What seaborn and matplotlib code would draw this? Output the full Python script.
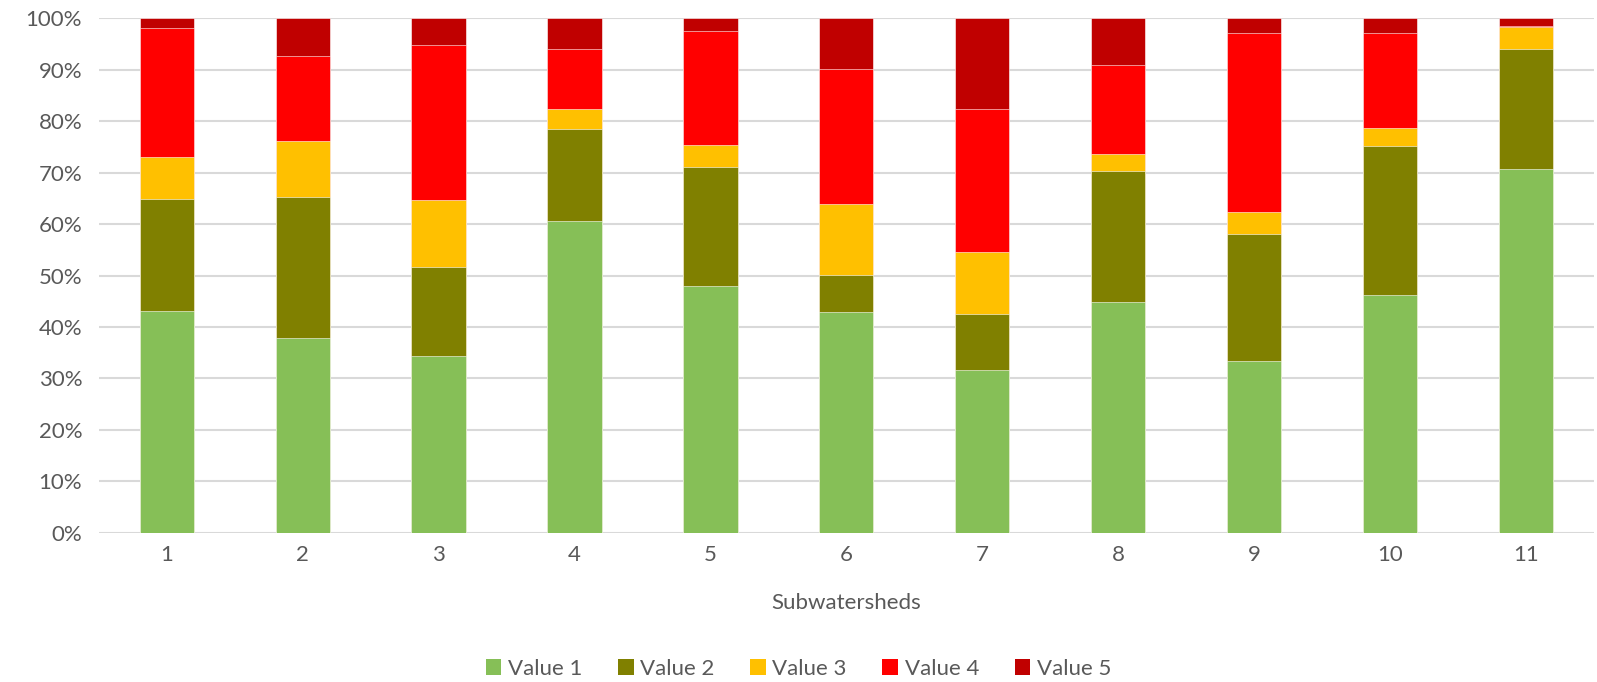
import matplotlib
matplotlib.use("Agg")
import matplotlib.pyplot as plt
import seaborn as sns
import pandas as pd
import numpy as np
from matplotlib.patches import Patch

subwatersheds = ["1", "2", "3", "4", "5", "6", "7", "8", "9", "10", "11"]
value1 = [43.1, 37.8, 34.3, 60.6, 48.0, 43.0, 31.7, 44.9, 33.4, 46.3, 70.8]
value2 = [21.7, 27.4, 17.3, 17.9, 23.1, 7.1, 10.9, 25.5, 24.6, 28.9, 23.2]
value3 = [8.3, 11.0, 13.1, 3.8, 4.3, 13.8, 12.0, 3.2, 4.4, 3.4, 4.4]
value4 = [25.1, 16.4, 30.2, 11.7, 22.2, 26.2, 27.7, 17.3, 34.8, 18.6, 0.2]
value5 = [1.8, 7.4, 5.1, 6.0, 2.4, 9.9, 17.7, 9.1, 2.8, 2.8, 1.4]
series_names = ["Value 1", "Value 2", "Value 3", "Value 4", "Value 5"]
colors = ["#86BF57", "#808000", "#FFC000", "#FF0000", "#C00000"]
ytick_labels = ["0%", "10%", "20%", "30%", "40%", "50%", "60%", "70%", "80%", "90%", "100%"]

sns.set_theme(style="white")
plt.rcParams["font.family"] = ["Lato", "DejaVu Sans"]
text_color = "#595959"

data = np.array([value1, value2, value3, value4, value5], dtype=float)
shares = data / data.sum(axis=0) * 100.0
cum = np.cumsum(shares, axis=0)

fig = plt.figure(figsize=(15.97, 6.82), dpi=100)
ax = fig.add_axes([0.0619, 0.219, 0.936, 0.754])

for i in range(len(series_names) - 1, -1, -1):
    df = pd.DataFrame({"Subwatershed": subwatersheds, "cum": cum[i]})
    sns.barplot(data=df, x="Subwatershed", y="cum", color=colors[i],
                width=0.4, saturation=1, ax=ax, zorder=3,
                edgecolor="white", linewidth=0.4)

ax.set_ylim(0, 100)
ax.set_xlim(-0.5, len(subwatersheds) - 0.5)
ax.set_yticks(np.arange(0, 101, 10))
ax.set_yticklabels(ytick_labels)
ax.yaxis.grid(True, color="#d9d9d9", linewidth=1.5, zorder=0)
ax.set_axisbelow(True)
for s in ax.spines.values():
    s.set_visible(False)
ax.tick_params(axis="both", length=0, labelsize=16, colors=text_color)
ax.tick_params(axis="y", pad=12)
ax.tick_params(axis="x", pad=9)
ax.set_ylabel("")
ax.set_xlabel("Subwatersheds", fontsize=16, color=text_color, labelpad=20)

handles = [Patch(facecolor=c, edgecolor="none") for c in colors]
fig.legend(handles, series_names, loc="lower center", ncol=5, frameon=False,
           bbox_to_anchor=(0.5, -0.025), fontsize=16, handlelength=0.7,
           handleheight=0.7, handletextpad=0.3, columnspacing=1.6,
           labelcolor=text_color)

fig.savefig("out.png", dpi=100)
